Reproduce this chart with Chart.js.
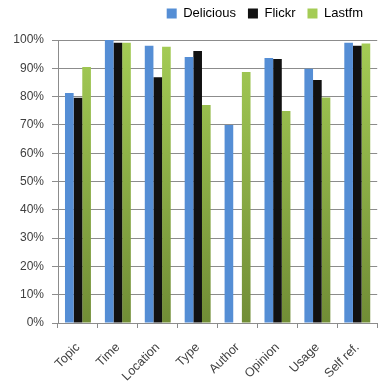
<!DOCTYPE html>
<html>
<head>
<meta charset="utf-8">
<script src="https://cdn.jsdelivr.net/npm/chart.js@4"></script>
<style>
  html, body { margin: 0; padding: 0; background: #fff; }
  #wrap { width: 380px; height: 385px; }
</style>
</head>
<body>
<div id="wrap"><canvas id="grafico"></canvas></div>
<script>
// categorias e valores (%)
const categorias = ["Topic", "Time", "Location", "Type", "Author", "Opinion", "Usage", "Self ref."];
const delicious = [81.3, 100, 98, 94, 70, 93.6, 89.8, 99];
const flickr = [79.6, 99, 86.8, 96.1, 0, 93.3, 85.9, 98];
const lastfm = [90.5, 99, 97.6, 77, 88.7, 74.9, 79.7, 98.8];
const ticksY = [0, 10, 20, 30, 40, 50, 60, 70, 80, 90, 100];

// gradiente do verde (claro em cima, escuro embaixo)
function verde(ctx) {
  const chart = ctx.chart;
  const area = chart.chartArea;
  if (!area) return "#8fb347";
  const g = chart.ctx.createLinearGradient(0, area.top, 0, area.bottom);
  g.addColorStop(0, "#a4cc55");
  g.addColorStop(1, "#718d36");
  return g;
}

// altura fixa da legenda e desenho mais pra cima
const legendaFixa = {
  id: "legendaFixa",
  beforeInit(chart) {
    const lg = chart.legend;
    const fit = lg.fit;
    lg.fit = function () {
      fit.bind(lg)();
      this.height = 40;
    };
    const draw = lg.draw;
    lg.draw = function () {
      const c = chart.ctx;
      c.save();
      c.translate(-3, -5);
      draw.bind(lg)();
      c.restore();
    };
  }
};

new Chart(document.getElementById("grafico"), {
  type: "bar",
  data: {
    labels: categorias,
    datasets: [
      { label: "Delicious", data: delicious, backgroundColor: "#558ed5" },
      { label: "Flickr", data: flickr, backgroundColor: "#111111" },
      { label: "Lastfm", data: lastfm, backgroundColor: verde }
    ]
  },
  options: {
    responsive: true,
    maintainAspectRatio: false,
    animation: false,
    categoryPercentage: 0.65,
    barPercentage: 1,
    layout: { padding: { left: 0, right: 2, top: 0, bottom: 0 } },
    plugins: {
      legend: {
        position: "top",
        align: "end",
        labels: {
          boxWidth: 10,
          boxHeight: 10,
          padding: 12,
          color: "#000",
          font: { family: "Liberation Sans", size: 13 }
        }
      },
      tooltip: { enabled: false }
    },
    scales: {
      x: {
        afterFit(s) { s.height = 62; },
        grid: { drawOnChartArea: false, drawTicks: true, tickLength: 5, color: "#8c8c8c" },
        border: { color: "#8c8c8c" },
        ticks: {
          minRotation: 45,
          maxRotation: 45,
          padding: 12,
          color: "#404040",
          font: { family: "Liberation Sans", size: 12.5 }
        }
      },
      y: {
        min: 0,
        max: 100,
        afterFit(s) { s.width = 58; },
        afterBuildTicks(s) { s.ticks = ticksY.map(v => ({ value: v })); },
        grid: { color: "#8c8c8c", tickLength: 6 },
        border: { color: "#8c8c8c" },
        ticks: {
          padding: 8,
          color: "#404040",
          font: { family: "Liberation Sans", size: 12 },
          callback: v => v + "%"
        }
      }
    }
  },
  plugins: [legendaFixa]
});
</script>
</body>
</html>
